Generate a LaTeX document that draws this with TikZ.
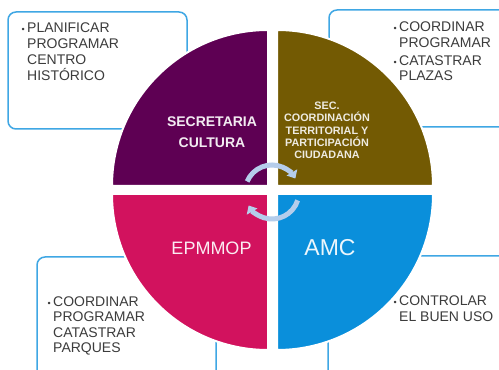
\documentclass[tikz,border=0pt]{standalone}
\usepackage{fontspec}
\setmainfont{Liberation Sans}
\usetikzlibrary{arrows.meta}
\definecolor{cpurple}{RGB}{94,0,83}
\definecolor{cbrown}{RGB}{115,90,3}
\definecolor{cpink}{RGB}{210,18,94}
\definecolor{cblue}{RGB}{10,143,219}
\definecolor{cbox}{RGB}{63,167,228}
\definecolor{ctext}{RGB}{60,60,60}
\definecolor{carrow}{RGB}{181,205,235}
\newcommand{\bul}{\llap{\fontsize{9}{9}\selectfont\textbullet\hspace{2.5pt}}}
\tikzset{
  infobox/.style={draw=cbox, line width=1.5pt, rounded corners=8pt},
  quad/.style={draw=white, line width=2pt},
  boxtext/.style={anchor=north west, inner sep=0pt, align=left, text=ctext, font=\fontsize{14}{15.5}\selectfont},
  cycarrow/.style={draw=carrow, line width=5pt, -{Triangle[width=12pt,length=7pt]}}
}
\begin{document}
\begin{tikzpicture}[x=1pt,y=1pt]
\useasboundingbox (0,0) rectangle (499,370);
\clip (0,0) rectangle (499,370);
\fill[white] (0,0) rectangle (499,370);
% boxes
\draw[infobox] (8,241) rectangle (187,358);
\draw[infobox] (329,243) rectangle (530,360);
\draw[infobox] (37,-30) rectangle (216,113);
\draw[infobox] (328,-30) rectangle (530,114);
% quadrants
\coordinate (ctl) at (268,184);
\coordinate (ctr) at (277,184);
\coordinate (cbl) at (268,176);
\coordinate (cbr) at (277,176);
\filldraw[quad, fill=cpurple] (ctl) -- ++(0,156) arc[start angle=90, end angle=180, radius=156] -- cycle;
\filldraw[quad, fill=cbrown] (ctr) -- ++(156,0) arc[start angle=0, end angle=90, radius=156] -- cycle;
\filldraw[quad, fill=cpink] (cbl) -- ++(-156,0) arc[start angle=180, end angle=270, radius=156] -- cycle;
\filldraw[quad, fill=cblue] (cbr) -- ++(0,-156) arc[start angle=270, end angle=360, radius=156] -- cycle;
% cycle arrows
\coordinate (cc) at (272,178);
\draw[cycarrow] ([shift={(157:27)}]cc) arc[start angle=157, end angle=30, radius=27];
\draw[cycarrow] ([shift={(-18:27)}]cc) arc[start angle=-18, end angle=-150, radius=27];
% quadrant labels
\node[text=white!92!cpurple, font=\bfseries\fontsize{14}{21}\selectfont, align=center] (sc) at (212,237.5) {SECRETARIA\\CULTURA};
\node[text=white!88!cbrown, font=\bfseries\fontsize{10.8}{12.25}\selectfont, align=center] (sec) at (327,239.5) {SEC.\\COORDINACIÓN\\TERRITORIAL Y\\PARTICIPACIÓN\\CIUDADANA};
\node[text=white!92!cpink, font=\fontsize{18}{18}\selectfont] (ep) at (211.5,122) {EPMMOP};
\node[text=white!92!cblue, font=\fontsize{23}{23}\selectfont] (amc) at (330,122) {AMC};
% box texts
\node[boxtext, font=\fontsize{14}{16}\selectfont] (t1) at (27,347.5) {\bul PLANIFICAR\\PROGRAMAR\\CENTRO\\HISTÓRICO};
\node[boxtext] (t2) at (399,348) {\bul COORDINAR\\PROGRAMAR\\[2.5pt]\bul CATASTRAR\\PLAZAS};
\node[boxtext] (t3) at (53,73.5) {\bul COORDINAR\\PROGRAMAR\\CATASTRAR\\PARQUES};
\node[boxtext] (t4) at (399,74) {\bul CONTROLAR\\EL BUEN USO};
\end{tikzpicture}
\end{document}
